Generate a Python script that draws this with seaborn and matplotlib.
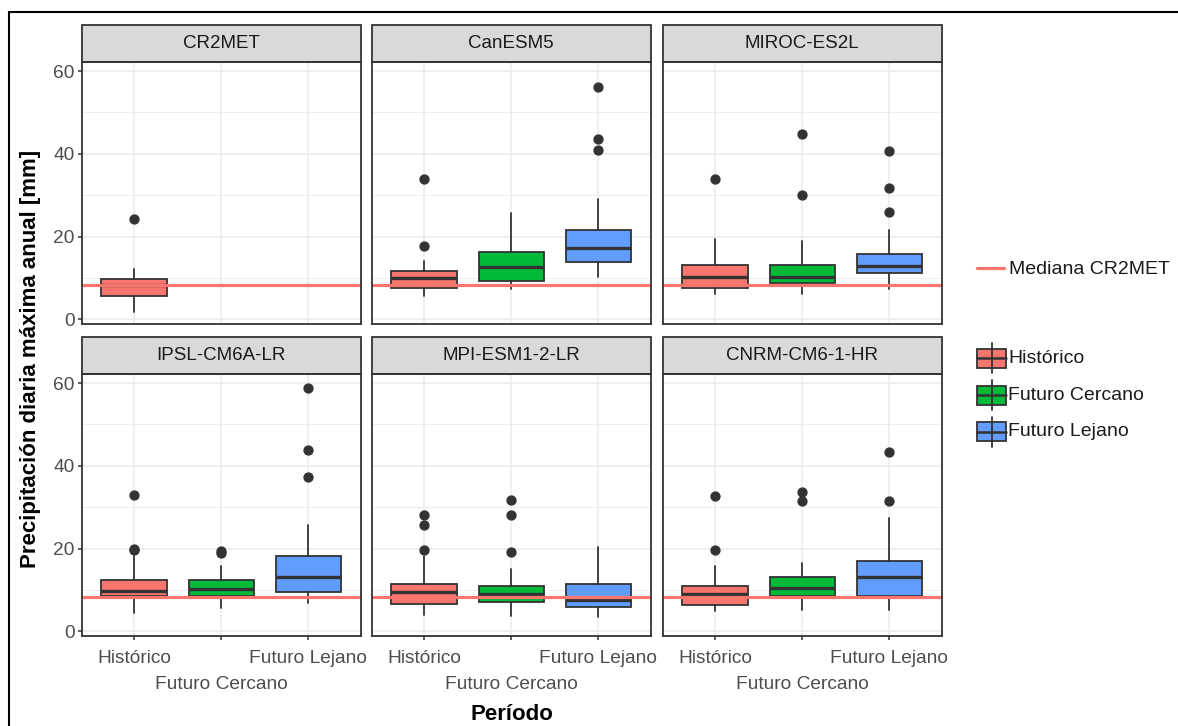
import numpy as np
import pandas as pd
import matplotlib
matplotlib.use("Agg")
import matplotlib.pyplot as plt
import seaborn as sns
from matplotlib.patches import Rectangle
from matplotlib.lines import Line2D

# ---------------- data ----------------
models = ["CR2MET", "CanESM5", "MIROC-ES2L",
          "IPSL-CM6A-LR", "MPI-ESM1-2-LR", "CNRM-CM6-1-HR"]
periods = ["Histórico", "Futuro Cercano", "Futuro Lejano"]
period_colors = ["#F8766D", "#00BA38", "#619CFF"]

# box statistics per model (rows) and period (columns); None = no data
whisker_low = [[1.7, None, None], [5.6, 7.25, 10.3], [6.0, 6.0, 7.25],
               [4.4, 5.6, 6.8], [4.0, 3.8, 3.4], [4.8, 5.2, 5.2]]
q1 = [[5.7, None, None], [7.65, 9.25, 13.9], [7.65, 8.7, 11.1],
      [8.5, 8.5, 9.6], [6.55, 7.2, 5.8], [6.4, 8.5, 8.5]]
medians = [[8.3, None, None], [10.05, 12.6, 17.15], [10.3, 10.3, 12.9],
           [9.8, 10.3, 13.2], [9.45, 9.1, 7.6], [9.05, 10.55, 13.2]]
q3 = [[9.67, None, None], [11.7, 16.3, 21.6], [13.1, 13.1, 15.8],
      [12.4, 12.4, 18.3], [11.45, 11.05, 11.45], [11.05, 13.05, 17.0]]
whisker_high = [[12.1, None, None], [14.1, 25.8, 29.1], [19.4, 19.0, 21.7],
                [18.2, 15.9, 25.6], [18.2, 15.1, 20.4], [15.85, 16.6, 27.4]]
outliers = [[[24.2], [], []],
            [[17.7, 34.0], [], [56.1, 43.65, 40.9]],
            [[34.0], [44.9, 30.1], [40.6, 31.65, 25.85]],
            [[19.6, 20.0, 33.0], [18.9, 19.3], [58.7, 43.85, 37.2]],
            [[28.0, 25.6, 19.6], [31.85, 28.0, 19.2], []],
            [[19.6, 32.65], [33.6, 31.45], [43.4, 31.45]]]

# median of CR2MET (reference line)
cr2met_median = medians[0][0]

rows = []
for m, model in enumerate(models):
    for p, period in enumerate(periods):
        if medians[m][p] is None:
            continue
        rows.append(dict(modelo=model, periodo=period,
                         whislo=whisker_low[m][p], q1=q1[m][p],
                         med=medians[m][p], q3=q3[m][p],
                         whishi=whisker_high[m][p], fliers=outliers[m][p]))
df = pd.DataFrame(rows)

# ---------------- style ----------------
sns.set_theme(style="white")
plt.rcParams["font.family"] = ["Liberation Sans", "DejaVu Sans"]

EDGE = "#333333"
GRID = "#EBEBEB"
W, H = 1178, 726
TICK_FS = 13.8
LEG_FS = 14.0


def fx(x):
    return x / W


def fy(y):
    return 1 - y / H


def draw_boxes(data, color=None, **kws):
    ax = plt.gca()
    for _, r in data.iterrows():
        i = periods.index(r["periodo"])
        stats = [dict(whislo=r["whislo"], q1=r["q1"], med=r["med"],
                      q3=r["q3"], whishi=r["whishi"], fliers=r["fliers"])]
        ax.bxp(stats, positions=[i], widths=0.75, patch_artist=True,
               showcaps=False, manage_ticks=False,
               boxprops=dict(facecolor=period_colors[i], edgecolor=EDGE, lw=1.3),
               medianprops=dict(color=EDGE, lw=2.4, solid_capstyle="butt"),
               whiskerprops=dict(color=EDGE, lw=1.3),
               flierprops=dict(marker="o", markerfacecolor=EDGE,
                               markeredgecolor=EDGE, markersize=6.4))
    ax.axhline(cr2met_median, color="#F8766D", lw=2.3, zorder=6)


g = sns.FacetGrid(df, col="modelo", col_wrap=3, col_order=models,
                  sharex=True, sharey=True, despine=False, height=3, aspect=1.2)
g.map_dataframe(draw_boxes)
g.set_titles("")
g.set_axis_labels("", "")

fig = g.figure
fig.set_size_inches(W / 100, H / 100)
fig.set_dpi(100)

col_left = [81.7, 371.7, 662.7]
panel_w = 279.0
row_top = [62.0, 374.0]
panel_h = 262.0
strip_h = 37.0

for k, ax in enumerate(g.axes.flat):
    r, c = divmod(k, 3)
    left = col_left[c]
    top = row_top[r]
    ax.set_position([fx(left), fy(top + panel_h), panel_w / W, panel_h / H])
    ax.set_facecolor("white")
    ax.set_xlim(-0.6, 2.6)
    ax.set_ylim(-1.14, 62.2)
    ax.set_yticks([0, 20, 40, 60])
    ax.set_yticks([10, 30, 50], minor=True)
    ax.set_xticks([0, 2])
    ax.set_xticks([1], minor=True)
    ax.grid(False)
    ax.grid(True, which="major", axis="both", color=GRID, lw=1.1, zorder=0)
    ax.grid(True, which="minor", axis="y", color=GRID, lw=0.6, zorder=0)
    ax.grid(True, which="minor", axis="x", color=GRID, lw=1.1, zorder=0)
    ax.set_axisbelow(True)
    for s in ax.spines.values():
        s.set_visible(True)
        s.set_color(EDGE)
        s.set_linewidth(1.3)
        s.set_zorder(10)
    ax.tick_params(axis="y", which="minor", length=0, left=False)
    if c == 0:
        ax.tick_params(axis="y", which="major", left=True, labelleft=True,
                       length=3, width=1.1, color=EDGE, labelsize=TICK_FS,
                       labelcolor="#4D4D4D", pad=2)
    else:
        ax.tick_params(axis="y", which="major", left=False, labelleft=False)
    if r == 1:
        ax.set_xticklabels(["Histórico", "Futuro Lejano"])
        ax.set_xticklabels(["Futuro Cercano"], minor=True)
        ax.tick_params(axis="x", which="both", bottom=True, labelbottom=True,
                       length=3, width=1.1, color=EDGE, labelsize=TICK_FS,
                       labelcolor="#4D4D4D")
        ax.tick_params(axis="x", which="major", pad=7)
        ax.tick_params(axis="x", which="minor", pad=26)
    else:
        ax.tick_params(axis="x", which="both", bottom=False, labelbottom=False)
    # strip
    ax.add_patch(Rectangle((0, 1), 1, strip_h / panel_h, transform=ax.transAxes,
                           facecolor="#D9D9D9", edgecolor=EDGE, lw=1.3,
                           clip_on=False, zorder=10))
    ax.text(0.5, 1 + strip_h / panel_h / 2, models[k], transform=ax.transAxes,
            ha="center", va="center", fontsize=13.5, color="#1A1A1A",
            zorder=12, clip_on=False)

# axis titles
fig.text(fx(31), fy(359), "Precipitación diaria máxima anual [mm]", rotation=90,
         ha="center", va="center", fontsize=16, fontweight="bold", color="black")
fig.text(fx(511.7), fy(715), "Período", ha="center", va="center",
         fontsize=16, fontweight="bold", color="black")

# legend: reference line
fig.add_artist(Line2D([fx(977), fx(1004)], [fy(268.5)] * 2, color="#F8766D",
                      lw=2.3, transform=fig.transFigure))
fig.text(fx(1009), fy(269), "Mediana CR2MET", ha="left", va="center",
         fontsize=LEG_FS, color="#1A1A1A")

# legend: fill
for i, (lab, col) in enumerate(zip(periods, period_colors)):
    ym = 358.3 + i * 36.7
    fig.add_artist(Line2D([fx(991.5)] * 2, [fy(ym - 15), fy(ym + 15)], color=EDGE,
                          lw=1.3, transform=fig.transFigure))
    fig.add_artist(Rectangle((fx(977), fy(ym + 9.5)), 29 / W, 19 / H,
                             facecolor=col, edgecolor=EDGE, lw=1.3,
                             transform=fig.transFigure))
    fig.add_artist(Line2D([fx(977), fx(1006)], [fy(ym)] * 2, color=EDGE,
                          lw=1.8, transform=fig.transFigure))
    fig.text(fx(1008.5), fy(ym), lab, ha="left", va="center",
             fontsize=LEG_FS, color="#1A1A1A")

# outer frame (top and left edges visible)
fig.add_artist(Rectangle((fx(9), -0.1), 1.2, fy(12) + 0.1, fill=False,
                         edgecolor="black", lw=1.5, transform=fig.transFigure))

fig.savefig("out.png", dpi=100)
